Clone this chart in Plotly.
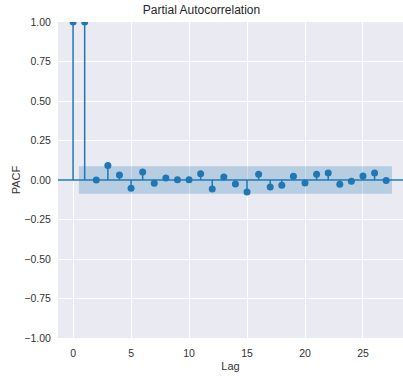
import plotly.graph_objects as go

lags = list(range(28))
pacf = [1.0, 1.0, 0.0, 0.091, 0.032, -0.053, 0.051, -0.021, 0.013, 0.002,
        0.002, 0.040, -0.057, 0.019, -0.025, -0.076, 0.036, -0.044, -0.034, 0.023,
        -0.019, 0.036, 0.044, -0.027, -0.008, 0.025, 0.044, -0.003]
conf = 0.087
band_x = [0.5, 27.5]

blue = "#1f77b4"
fig = go.Figure()

# confidence band
fig.add_trace(go.Scatter(x=[band_x[0], band_x[1], band_x[1], band_x[0], band_x[0]],
                         y=[-conf, -conf, conf, conf, -conf], fill="toself",
                         fillcolor="rgba(31,119,180,0.25)", line=dict(width=0),
                         mode="lines", hoverinfo="skip", showlegend=False))

# stems
sx, sy = [], []
for l, v in zip(lags, pacf):
    sx += [l, l, None]
    sy += [0, v, None]
fig.add_trace(go.Scatter(x=sx, y=sy, mode="lines", line=dict(color=blue, width=1.5),
                         showlegend=False, hoverinfo="skip"))
fig.add_trace(go.Scatter(x=lags, y=pacf, mode="markers",
                         marker=dict(color=blue, size=7), showlegend=False, cliponaxis=True))

fig.add_hline(y=0, line=dict(color=blue, width=1.5))

font_family = "Liberation Sans Narrow, Liberation Sans, Arial, sans-serif"
fig.update_layout(
    width=403, height=376,
    margin=dict(l=58, r=0, t=22, b=38),
    paper_bgcolor="white", plot_bgcolor="#EAEAF2",
    font=dict(family=font_family, size=10.5, color="#333333"),
    title=dict(text="Partial Autocorrelation", x=0.5, xanchor="center",
               y=0.973, yanchor="middle", font=dict(size=12, color="#262626")),
    xaxis=dict(range=[-1.3, 28.45], tickvals=[0, 5, 10, 15, 20, 25],
               showgrid=True, gridcolor="white", gridwidth=1, zeroline=False,
               ticks="outside", ticklen=5, tickcolor="rgba(0,0,0,0)", showline=False,
               title=dict(text="Lag", standoff=4, font=dict(size=11))),
    yaxis=dict(range=[-1.0, 1.0], tickvals=[-1, -0.75, -0.5, -0.25, 0, 0.25, 0.5, 0.75, 1.0],
               tickformat=".2f", showgrid=True, gridcolor="white", gridwidth=1,
               zeroline=False, ticks="outside", ticklen=4, tickcolor="rgba(0,0,0,0)",
               showline=False,
               title=dict(text="PACF", standoff=1, font=dict(size=11))),
)
fig.write_html("out.html", config={"displayModeBar": False},
               post_script="document.body.style.margin='0';document.body.style.overflow='hidden';")
